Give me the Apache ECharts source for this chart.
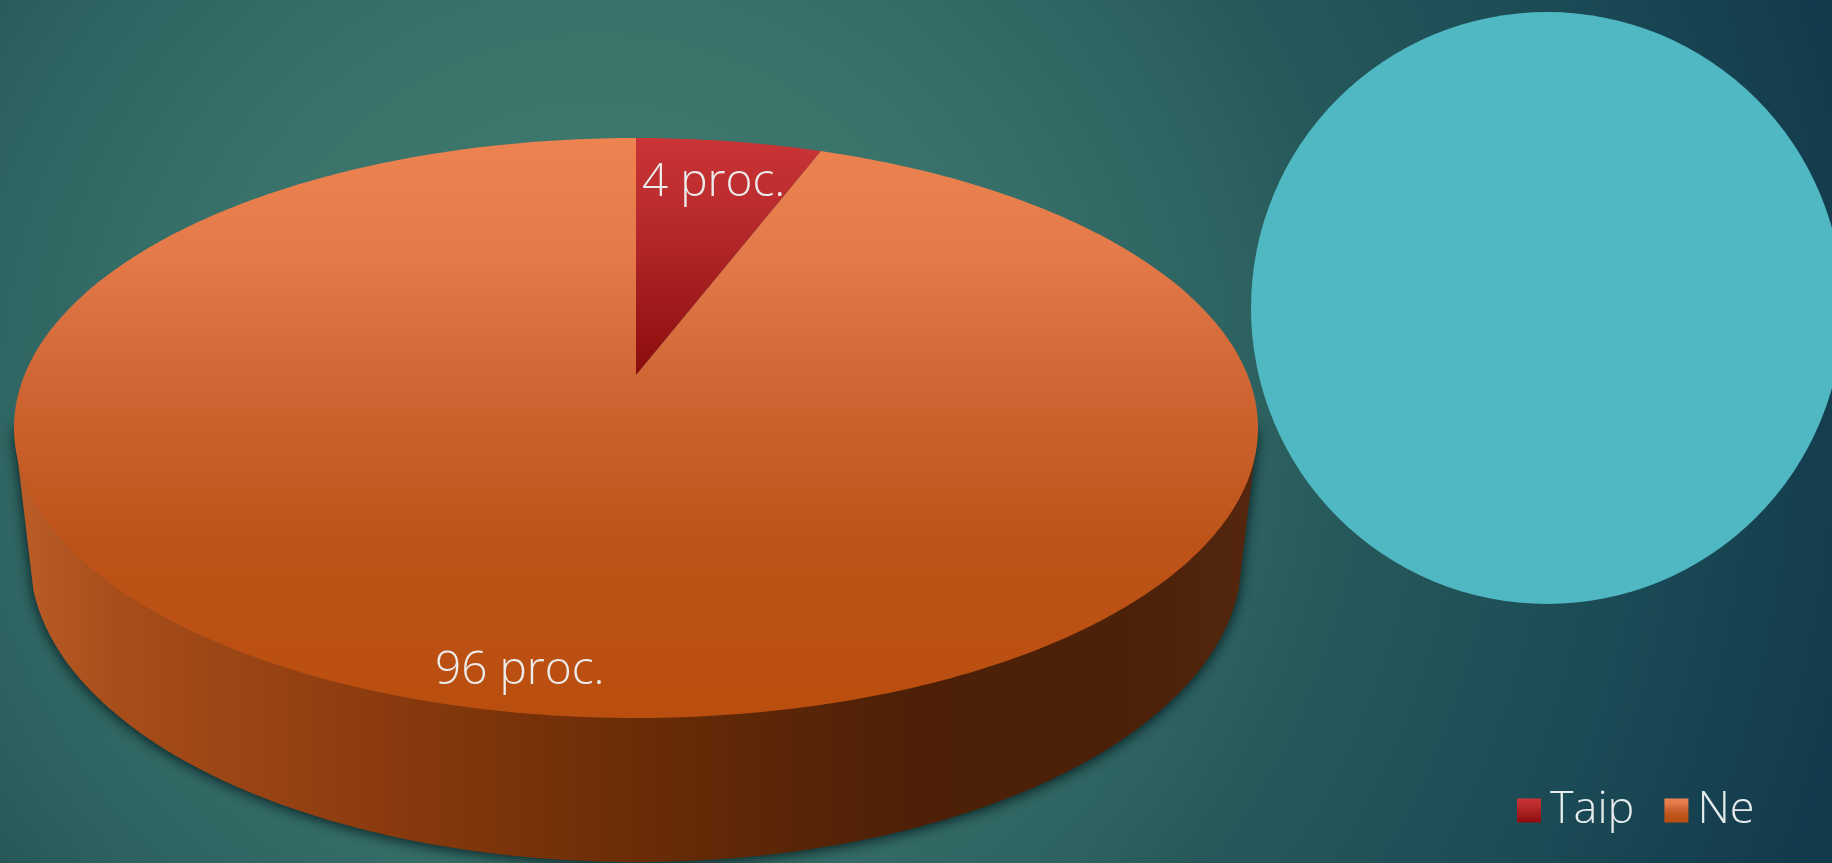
<!DOCTYPE html>
<html><head><meta charset="utf-8">
<style>html,body{margin:0;padding:0;background:#1f5557;overflow:hidden}#c{width:1832px;height:863px}</style>
<script src="https://cdn.jsdelivr.net/npm/echarts@6/dist/echarts.min.js"></script>
</head><body><div id="c"></div>
<script>
const categories = ['Taip', 'Ne'];
const values = [4, 96];
const valueSuffix = ' proc.';

const total = values.reduce((a, b) => a + b, 0);
const G = echarts.graphic;
const top3d = {cx: 636, cy: 428, rx: 622, ry: 290, apexY: 375, tilt: 193.4};
const base3d = {cx: 636, cy: 558, rx: 606, ry: 304, startY: 590};
const labelAnchors = [{x: 642, y: 183}, {x: 435, y: 671}];
const textFont = 'Open Sans';

const fills = [
  new G.LinearGradient(0, 0, 0, 1, [
    {offset: 0, color: '#ca3436'}, {offset: 0.35, color: '#b82a2c'}, {offset: 1, color: '#8b0c0c'}]),
  new G.LinearGradient(0, 0, 0, 1, [
    {offset: 0, color: '#ed8350'}, {offset: 0.2, color: '#e47a49'}, {offset: 0.42, color: '#cf6634'},
    {offset: 0.7, color: '#bd5318'}, {offset: 1, color: '#b94e0e'}])
];
const wallFill = new G.LinearGradient(0, 0, 1, 0, [
  {offset: 0, color: '#bb5e28'}, {offset: 0.08, color: '#a84e1a'}, {offset: 0.3, color: '#8a3a0e'},
  {offset: 0.5, color: '#6a2c07'}, {offset: 0.72, color: '#4d2007'}, {offset: 0.9, color: '#4c2109'},
  {offset: 1, color: '#55270f'}]);

function rimPoint(theta) {
  const t = top3d, dx = t.rx * Math.sin(theta), dy = -t.tilt * Math.cos(theta);
  const oy = t.apexY - t.cy;
  const A = dx * dx / (t.rx * t.rx) + dy * dy / (t.ry * t.ry);
  const B = 2 * oy * dy / (t.ry * t.ry);
  const C = oy * oy / (t.ry * t.ry) - 1;
  const s = (-B + Math.sqrt(B * B - 4 * A * C)) / (2 * A);
  return [t.cx + dx * s, t.apexY + dy * s];
}
function sliceRender(index) {
  return function (params, api) {
    const v = api.value(0);
    const before = values.slice(0, index).reduce((a, b) => a + b, 0);
    const a0 = before / total * 2 * Math.PI, a1 = (before + v) / total * 2 * Math.PI;
    const pts = [[top3d.cx, top3d.apexY]];
    const n = Math.max(8, Math.ceil((a1 - a0) * 90));
    for (let i = 0; i <= n; i++) pts.push(rimPoint(a0 + (a1 - a0) * i / n));
    const children = [];
    if (index === values.length - 1) {
      const wall = [[top3d.cx - top3d.rx, top3d.cy]];
      const p0 = Math.asin((base3d.startY - base3d.cy) / base3d.ry);
      for (let i = 0; i <= 180; i++) {
        const p = Math.PI - p0 - (Math.PI - 2 * p0) * i / 180;
        wall.push([base3d.cx + base3d.rx * Math.cos(p), base3d.cy + base3d.ry * Math.sin(p)]);
      }
      wall.push([top3d.cx + top3d.rx, top3d.cy]);
      children.push({type: 'polygon', shape: {points: wall},
        style: {fill: wallFill, shadowBlur: 14, shadowColor: 'rgba(0,15,20,0.85)', shadowOffsetY: 2}});
    }
    children.push({type: 'polygon', shape: {points: pts}, style: {fill: fills[index]}});
    const L = labelAnchors[index];
    children.push({type: 'text', x: L.x, y: L.y, z2: 10, style: {
      text: v + valueSuffix, fill: '#ececec', font: '300 46px "' + textFont + '"', textAlign: 'left', textVerticalAlign: 'middle'}});
    return {type: 'group', children};
  };
}

const chart = echarts.init(document.getElementById('c'), null, {renderer: 'canvas', width: 1832, height: 863});
chart.setOption({
  animation: false,
  legend: {
    data: categories, left: 1512, top: 783, itemWidth: 24, itemHeight: 24, itemGap: 30, icon: 'rect',
    textStyle: {color: '#e6ecec', fontFamily: textFont, fontWeight: 300, fontSize: 45, padding: [0, 0, 0, 4]}
  },
  graphic: [
    {type: 'rect', z: -10, silent: true, shape: {x: 0, y: 0, width: 1832, height: 863},
      style: {fill: new G.RadialGradient(600, 400, 1330, [
        {offset: 0, color: '#41796e'}, {offset: 0.2, color: '#3d766b'}, {offset: 0.3, color: '#39726a'},
        {offset: 0.51, color: '#2b605f'}, {offset: 0.56, color: '#27595b'}, {offset: 0.79, color: '#1a4a55'},
        {offset: 0.96, color: '#133a4c'}, {offset: 1, color: '#123849'}], true)}},
    {type: 'circle', z: -5, silent: true, shape: {cx: 1547, cy: 308, r: 296}, style: {fill: '#4fb8c3'}}
  ],
  series: categories.map((name, i) => ({
    type: 'custom', name, coordinateSystem: 'none', z: 5 - i,
    data: [[values[i]]], renderItem: sliceRender(i),
    itemStyle: {color: fills[i]}, silent: true
  }))
});
</script></body></html>
